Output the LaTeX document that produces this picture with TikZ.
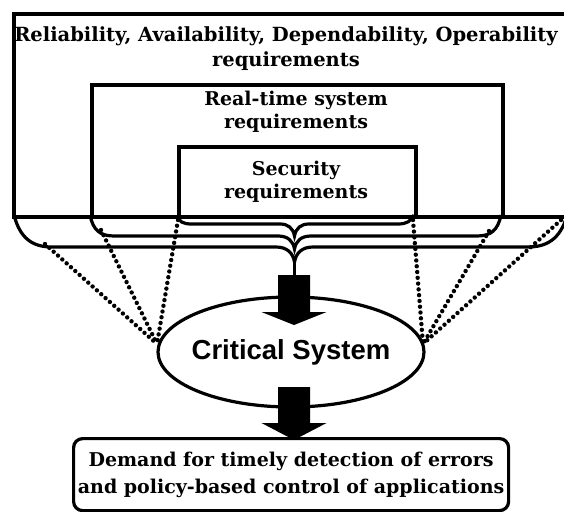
\documentclass[tikz,border=0pt]{standalone}
\usepackage{fontspec}
\setmainfont{DejaVu Serif}
\newfontfamily\critfont{Liberation Sans}
\usetikzlibrary{shapes.geometric}

\tikzset{
  reqbox/.style={draw, line width=3.6pt, inner sep=0pt},
  reqtext/.style={font=\fontsize{19}{24}\selectfont\bfseries, align=center, inner sep=0pt},
  brace/.style={line width=3.2pt},
  fan/.style={line width=4.4pt, dash pattern=on 0pt off 5.8pt, line cap=round},
  blockarrow/.style={fill=black},
}

\begin{document}
\begin{tikzpicture}[x=1pt,y=-1pt]
\useasboundingbox (0,0) rectangle (564,511);
\clip (0,0) rectangle (564,511);

% nested requirement boxes
\node[reqbox, minimum width=590, minimum height=203, anchor=north west] (outer) at (12,12) {};
\node[reqbox, minimum width=411, minimum height=132, anchor=north west] (middle) at (90,83) {};
\node[reqbox, minimum width=237, minimum height=70, anchor=north west] (inner) at (177,145) {};

\node[reqtext, font=\fontsize{19.5}{25}\selectfont\bfseries] (reltext) at (286,48.5) {Reliability, Availability, Dependability, Operability\\requirements};
\node[reqtext, font=\fontsize{19}{23}\selectfont\bfseries] (rttext) at (296,112) {Real-time system\\requirements};
\node[reqtext, font=\fontsize{19}{23}\selectfont\bfseries] (sectext) at (296,182) {Security\\requirements};

% brace end points and tips
\coordinate (ib) at (294.5,236);
\coordinate (mb) at (294.5,249);
\coordinate (ob) at (294.5,262);
\coordinate (stem) at (294.5,275);

% inner brace
\draw[brace] (177,215) .. controls (179,222) and (183,224) .. (192,224) -- (280,224)
  .. controls (288,224) and (293,228) .. (ib)
  .. controls (296,228) and (301,224) .. (309,224) -- (398,224)
  .. controls (407,224) and (411,221) .. (414,215);
% middle brace
\draw[brace] (90,215) .. controls (93,230) and (100,236) .. (114,236) -- (278,236)
  .. controls (288,236) and (293,241) .. (mb)
  .. controls (296,241) and (301,236) .. (311,236) -- (477,236)
  .. controls (491,236) and (498,230) .. (501,215);
% outer brace
\draw[brace] (14,215) .. controls (20,238) and (32,247) .. (52,247) -- (276,247)
  .. controls (287,247) and (293,253) .. (ob)
  .. controls (296,253) and (302,247) .. (313,247) -- (528,247)
  .. controls (550,247) and (562,236) .. (568,212);
\draw[brace] (ob) -- (stem);

% dotted fan lines towards the critical system
\coordinate (fl) at (157,344);
\coordinate (fr) at (423,344);
\coordinate (l1) at (45,244);
\coordinate (l2) at (101,230);
\coordinate (l3) at (178,220);
\coordinate (r1) at (413,220);
\coordinate (r2) at (489,231);
\coordinate (r3) at (561,220);
\foreach \p in {l1,l2,l3} \draw[fan] (\p) -- (fl);
\foreach \p in {r1,r2,r3} \draw[fan] (\p) -- (fr);

% critical system
\node[ellipse, draw, line width=3.2pt, minimum width=266, minimum height=110, inner sep=0pt] (crit) at (291,352) {};
\node[font=\critfont\bfseries\fontsize{27.5}{30}\selectfont, inner sep=0pt] (crittext) at (crit.center) {Critical System};

% block arrows
\fill[blockarrow] (stem) ++(-16.5,0) -- ++(32,0) -- ++(0,37) -- ++(16.5,0)
  -- ++(-32.5,13) -- ++(-32.5,-13) -- ++(16.5,0) -- cycle;
\coordinate (low) at (294.5,387);
\fill[blockarrow] (low) ++(-16.5,0) -- ++(32,0) -- ++(0,36) -- ++(16.5,0)
  -- ++(-32.5,17) -- ++(-32.5,-17) -- ++(16.5,0) -- cycle;

% resulting demand
\node[draw, line width=3.2pt, rounded corners=9pt, minimum width=435, minimum height=72,
      anchor=north west, align=center, inner sep=0pt,
      font=\fontsize{19}{27}\selectfont\bfseries] (demand) at (72,437)
  {Demand for timely detection of errors\\and policy-based control of applications};
\end{tikzpicture}
\end{document}
